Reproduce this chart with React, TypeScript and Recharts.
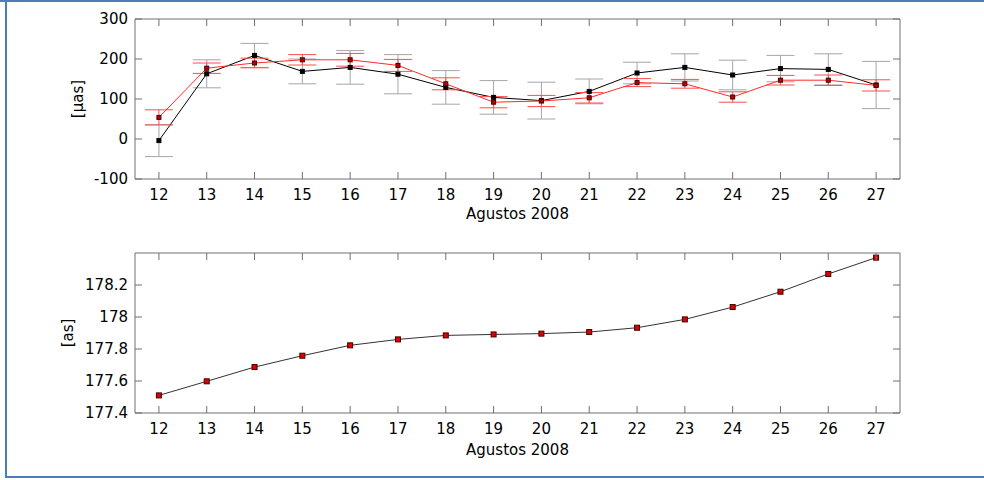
import React from 'react';
import { LineChart, Line, XAxis, YAxis, ErrorBar } from 'recharts';

// days of August 2008
const days = [12, 13, 14, 15, 16, 17, 18, 19, 20, 21, 22, 23, 24, 25, 26, 27];

// upper panel, micro-arcseconds
const blackVals = [-4, 163, 209, 169, 179, 162, 129, 104, 96, 119, 165, 179, 160, 176, 174, 135];
const blackErr = [40, 35, 30, 31, 42, 49, 42, 42, 46, 31, 27, 34, 37, 33, 39, 59];
const redVals = [54, 177, 190, 198, 198, 184, 138, 92, 95, 103, 141, 138, 105, 147, 147, 134];
const redErr = [19, 13, 12, 13, 16, 15, 15, 14, 14, 13, 10, 11, 13, 12, 13, 14];
const topTicks = [-100, 0, 100, 200, 300];

// lower panel, arcseconds
const asVals = [177.51, 177.598, 177.687, 177.758, 177.823, 177.86, 177.885, 177.891, 177.896, 177.906, 177.933, 177.985, 178.062, 178.158, 178.269, 178.371];
const bottomTicks = [177.4, 177.6, 177.8, 178, 178.2];

const topData = days.map((d, i) => ({
    day: d,
    black: blackVals[i],
    blackErr: blackErr[i],
    red: redVals[i],
    redErr: redErr[i],
}));
const bottomData = days.map((d, i) => ({ day: d, as: asVals[i] }));

const FONT = '"DejaVu Sans", sans-serif';
const AXIS = '#707070';
const TICK = 7;

const squareDot = (fill: string, stroke: string, size: number) => (props: any) => {
    const { cx, cy, index } = props;
    return (
        <rect key={index} x={cx - size / 2} y={cy - size / 2} width={size} height={size}
            fill={fill} stroke={stroke} strokeWidth={1} />
    );
};

// tick marks point into the plot box, matlab style
const BottomTick = (props: any) => {
    const { x, y, payload } = props;
    return (
        <g>
            <line x1={x} y1={y} x2={x} y2={y - TICK} stroke={AXIS} strokeWidth={1} />
            <text x={x} y={y + 21} textAnchor="middle" fill="#000" fontSize={15} fontFamily={FONT}>{payload.value}</text>
        </g>
    );
};
const TopTick = (props: any) => {
    const { x, y } = props;
    return <line x1={x} y1={y} x2={x} y2={y + TICK} stroke={AXIS} strokeWidth={1} />;
};
const leftTick = (fmt: (v: number) => string) => (props: any) => {
    const { x, y, payload } = props;
    return (
        <g>
            <line x1={x} y1={y} x2={x + TICK} y2={y} stroke={AXIS} strokeWidth={1} />
            <text x={x - 7} y={y + 5} textAnchor="end" fill="#000" fontSize={15} fontFamily={FONT}>{fmt(payload.value)}</text>
        </g>
    );
};
const RightTick = (props: any) => {
    const { x, y } = props;
    return <line x1={x} y1={y} x2={x - TICK} y2={y} stroke={AXIS} strokeWidth={1} />;
};

// box axes on all four sides; the top and right ones carry no labels
const frameAxes = (yDomain: number[], yTicks: number[], yFormat: (v: number) => string, xLabelOffset: number, xHeight: number, yLabel: string, yLabelX: number) => [
    <XAxis key="xb" dataKey="day" type="number" domain={[11.5, 27.5]} ticks={days} interval={0}
        allowDataOverflow height={xHeight} stroke={AXIS} tickLine={false} tickSize={0} tickMargin={0} tick={<BottomTick />}
        label={{ value: 'Agustos 2008', position: 'insideBottom', offset: xLabelOffset, fill: '#000', fontSize: 15, fontFamily: FONT }} />,
    <XAxis key="xt" xAxisId="top" orientation="top" dataKey="day" type="number" domain={[11.5, 27.5]} ticks={days} interval={0}
        allowDataOverflow height={1} stroke={AXIS} tickLine={false} tickSize={0} tickMargin={0} tick={<TopTick />} />,
    <YAxis key="yl" type="number" domain={yDomain} ticks={yTicks} interval={0} allowDataOverflow
        width={135} stroke={AXIS} tickLine={false} tickSize={0} tickMargin={0} tick={leftTick(yFormat)}
        label={{ value: yLabel, angle: -90, position: 'insideLeft', offset: yLabelX, fill: '#000', fontSize: 15, fontFamily: FONT, style: { textAnchor: 'middle' } }} />,
    <YAxis key="yr" yAxisId="right" orientation="right" type="number" domain={yDomain} ticks={yTicks} interval={0}
        allowDataOverflow width={1} stroke={AXIS} tickLine={false} tickSize={0} tickMargin={0} tick={<RightTick />} />,
];

const App = () => {
    return (
        <div style={{ position: 'absolute', left: 0, top: 0, width: 984, height: 480, background: '#fff', overflow: 'hidden' }}>
            <div style={{ position: 'absolute', left: 0, top: 0, width: 984, height: 2, background: '#4a7ebb' }} />
            <div style={{ position: 'absolute', left: 5, top: 0, width: 2, height: 478, background: '#4a7ebb' }} />
            <div style={{ position: 'absolute', left: 5, top: 476, width: 979, height: 2, background: '#4a7ebb' }} />

            <div style={{ position: 'absolute', left: 0, top: 0 }}>
                <LineChart width={984} height={240} data={topData} margin={{ top: 18, right: 83, bottom: 0, left: 0 }}>
                    {frameAxes([-100, 300], topTicks, (v) => String(v), 21, 61, '[µas]', 78)}
                    {/* invisible series so the top and right frame axes get drawn */}
                    <Line xAxisId="top" yAxisId="right" dataKey="black" stroke="none" dot={false}
                        activeDot={false} isAnimationActive={false} legendType="none" />
                    <Line dataKey="black" stroke="#000" strokeWidth={1} isAnimationActive={false}
                        dot={squareDot('#000', '#000', 4)} activeDot={false}>
                        <ErrorBar dataKey="blackErr" direction="y" width={14} stroke="#a6a6a6" strokeWidth={1} />
                    </Line>
                    <Line dataKey="red" stroke="#ff2a2a" strokeWidth={1} isAnimationActive={false}
                        dot={squareDot('#c00000', '#400000', 4)} activeDot={false}>
                        <ErrorBar dataKey="redErr" direction="y" width={14} stroke="#ff4d4d" strokeWidth={1} />
                    </Line>
                </LineChart>
            </div>

            <div style={{ position: 'absolute', left: 0, top: 240 }}>
                <LineChart width={984} height={240} data={bottomData} margin={{ top: 12, right: 83, bottom: 0, left: 0 }}>
                    {frameAxes([177.4, 178.4], bottomTicks, (v) => String(Number(v.toFixed(1))), 25, 67, '[as]', 68)}
                    <Line xAxisId="top" yAxisId="right" dataKey="as" stroke="none" dot={false}
                        activeDot={false} isAnimationActive={false} legendType="none" />
                    <Line dataKey="as" stroke="#333" strokeWidth={1} isAnimationActive={false}
                        dot={squareDot('#e00000', '#400000', 5)} activeDot={false} />
                </LineChart>
            </div>
        </div>
    );
};

export default App;
